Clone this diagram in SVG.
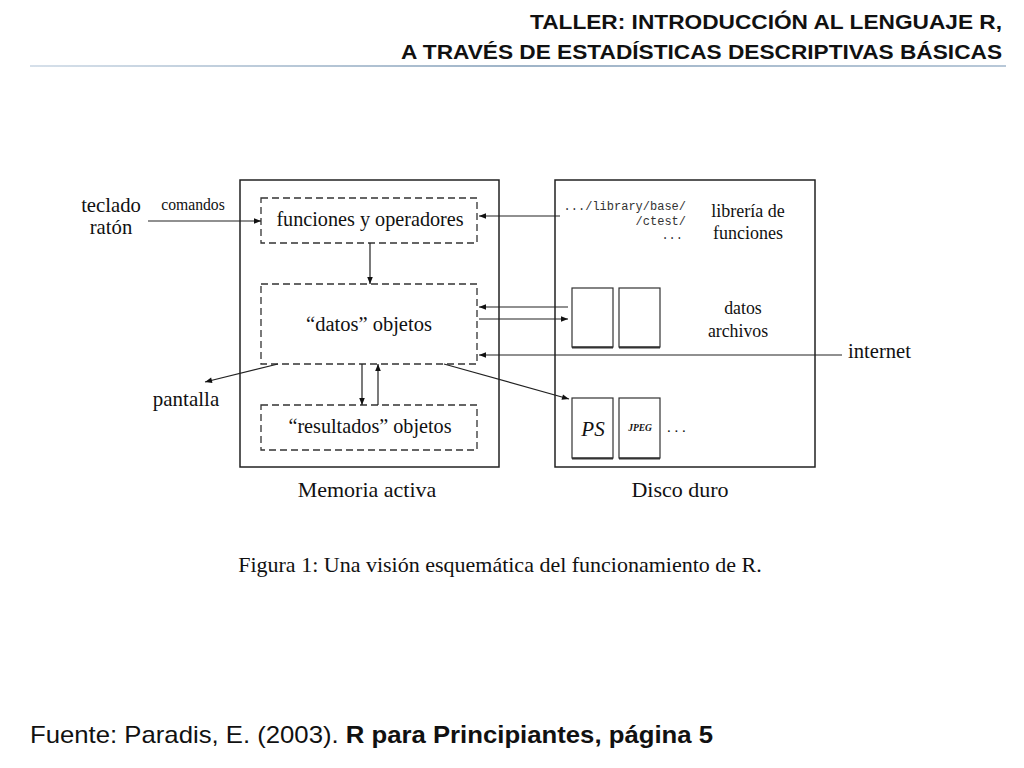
<svg xmlns="http://www.w3.org/2000/svg" width="1024" height="768" viewBox="0 0 1024 768">
<defs>
<marker id="ah" viewBox="0 0 10 10" refX="10" refY="5" markerWidth="9" markerHeight="7" markerUnits="userSpaceOnUse" orient="auto"><path d="M0,1 L10,5 L0,9 Z" fill="#111"/></marker>
<linearGradient id="hl" x1="0" x2="1" y1="0" y2="0"><stop offset="0" stop-color="#d6e0ea"/><stop offset="0.5" stop-color="#9fb4c8"/><stop offset="1" stop-color="#b8c8d8"/></linearGradient>
</defs>
<style>
.hdr{font-family:"Liberation Sans",Arial,sans-serif;font-weight:bold;font-size:20px;fill:#111;text-anchor:end}
.ser{font-family:"Liberation Serif","Times New Roman",serif;fill:#111}
.mono{font-family:"Liberation Mono","Courier New",monospace;fill:#333;font-size:12px}
.box{fill:none;stroke:#222;stroke-width:1.5}
.dash{fill:none;stroke:#333;stroke-width:1.3;stroke-dasharray:7,4}
.file{fill:#fff;stroke:#333;stroke-width:1.2}
.con{fill:none;stroke:#222;stroke-width:1.2;marker-end:url(#ah)}
</style>
<rect width="1024" height="768" fill="#fff"/>
<g id="header">
<text class="hdr" x="1002" y="29" textLength="472" lengthAdjust="spacingAndGlyphs">TALLER: INTRODUCCIÓN AL LENGUAJE R,</text>
<text class="hdr" x="1002" y="59" textLength="601" lengthAdjust="spacingAndGlyphs">A TRAVÉS DE ESTADÍSTICAS DESCRIPTIVAS BÁSICAS</text>
<rect x="30" y="65" width="976" height="2" fill="url(#hl)"/>
</g>
<g id="memoria">
<rect class="box" x="240" y="180" width="259" height="287"/>
<text class="ser" x="367" y="497" font-size="22" text-anchor="middle">Memoria activa</text>
</g>
<g id="disco">
<rect class="box" x="555" y="180" width="260" height="287"/>
<text class="ser" x="680" y="497" font-size="22" text-anchor="middle">Disco duro</text>
</g>
<g id="funciones">
<rect class="dash" x="261" y="198" width="216" height="45"/>
<text class="ser" x="370" y="226" font-size="20.2" text-anchor="middle">funciones y operadores</text>
</g>
<g id="datos">
<rect class="dash" x="261" y="284" width="216" height="80"/>
<text class="ser" x="369" y="331" font-size="20.5" text-anchor="middle">“datos” objetos</text>
</g>
<g id="resultados">
<rect class="dash" x="261" y="405" width="216" height="45"/>
<text class="ser" x="370" y="433" font-size="20.2" text-anchor="middle">“resultados” objetos</text>
</g>
<g id="teclado">
<text class="ser" x="111" y="212" font-size="20.7" text-anchor="middle">teclado</text>
<text class="ser" x="111" y="234" font-size="20.7" text-anchor="middle">ratón</text>
</g>
<g id="comandos-label">
<text class="ser" x="193" y="210" font-size="15.7" text-anchor="middle">comandos</text>
</g>
<g id="libreria">
<text class="mono" x="686" y="210" text-anchor="end">.../library/base/</text>
<text class="mono" x="686" y="225" text-anchor="end">/ctest/</text>
<text class="mono" x="683" y="239" text-anchor="end">...</text>
<text class="ser" x="748" y="217" font-size="18" text-anchor="middle">librería de</text>
<text class="ser" x="748" y="239" font-size="18" text-anchor="middle">funciones</text>
</g>
<g id="datos-archivos">
<rect class="file" x="572" y="288" width="41" height="59"/>
<rect class="file" x="619" y="288" width="41" height="59"/>
<line x1="572" y1="347.5" x2="613" y2="347.5" stroke="#333" stroke-width="2"/>
<line x1="619" y1="347.5" x2="660" y2="347.5" stroke="#333" stroke-width="2"/>
<text class="ser" x="743" y="314" font-size="17.8" text-anchor="middle">datos</text>
<text class="ser" x="738" y="337" font-size="17.8" text-anchor="middle">archivos</text>
</g>
<g id="graficos">
<rect class="file" x="572" y="398" width="41" height="60"/>
<rect class="file" x="619" y="398" width="41" height="60"/>
<line x1="572" y1="458.5" x2="613" y2="458.5" stroke="#333" stroke-width="2"/>
<line x1="619" y1="458.5" x2="660" y2="458.5" stroke="#333" stroke-width="2"/>
<text class="ser" x="593" y="436" font-size="21" font-style="italic" text-anchor="middle">PS</text>
<text class="ser" x="640" y="431" font-size="9.5" font-style="italic" font-weight="bold" text-anchor="middle">JPEG</text>
<text class="ser" x="667" y="432" font-size="15">. . .</text>
</g>
<g id="internet">
<text class="ser" x="848" y="358" font-size="20.6">internet</text>
</g>
<g id="pantalla">
<text class="ser" x="186" y="406" font-size="21" text-anchor="middle">pantalla</text>
</g>
<g id="connectors">
<line class="con" x1="148" y1="221" x2="261" y2="221"/>
<line class="con" x1="560" y1="216" x2="479" y2="216"/>
<line class="con" x1="370" y1="243" x2="370" y2="284"/>
<line class="con" x1="568" y1="307" x2="479" y2="307"/>
<line class="con" x1="479" y1="319" x2="568" y2="319"/>
<line class="con" x1="842" y1="355" x2="479" y2="355"/>
<line class="con" x1="362" y1="364" x2="362" y2="405"/>
<line class="con" x1="378" y1="405" x2="378" y2="364"/>
<line class="con" x1="278" y1="364" x2="205" y2="382"/>
<line class="con" x1="444" y1="364" x2="569" y2="399"/>
</g>
<g id="caption">
<text class="ser" x="500" y="572" font-size="22" text-anchor="middle">Figura 1: Una visión esquemática del funcionamiento de R.</text>
</g>
<g id="fuente">
<text x="30" y="743" font-family="'Liberation Sans',Arial,sans-serif" font-size="24" fill="#111" textLength="683" lengthAdjust="spacingAndGlyphs">Fuente: Paradis, E. (2003). <tspan font-weight="bold">R para Principiantes, página 5</tspan></text>
</g>
</svg>
